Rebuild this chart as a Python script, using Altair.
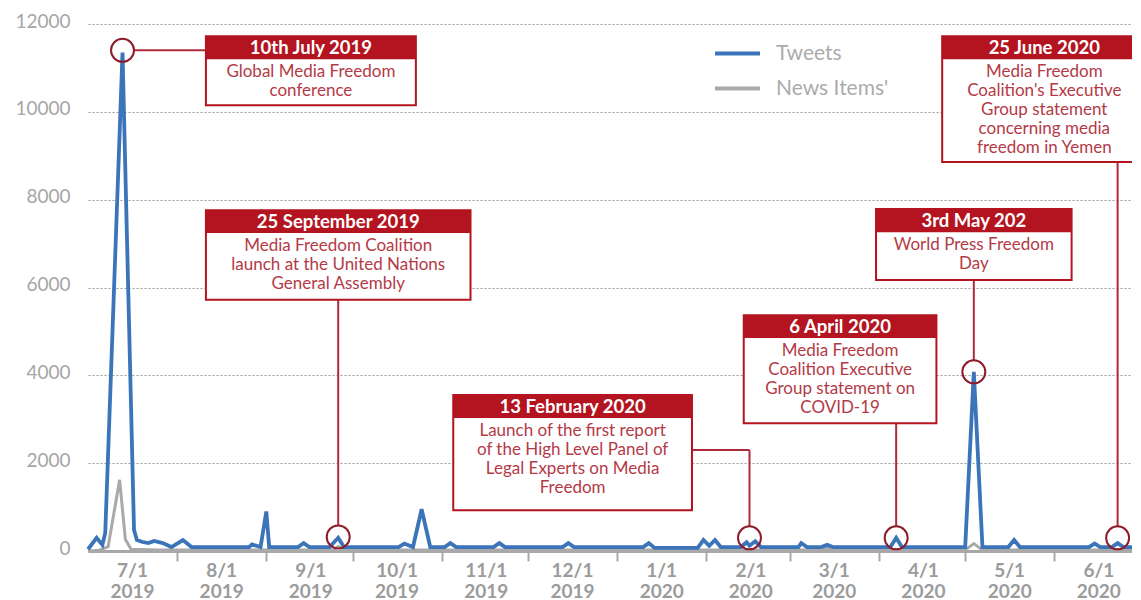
import altair as alt
import pandas as pd

# ---------------- data ----------------
tweet_dates = ["2019-07-01", "2019-07-04", "2019-07-06", "2019-07-07", "2019-07-13", "2019-07-17",
               "2019-07-18", "2019-07-20", "2019-07-22", "2019-07-24", "2019-07-27", "2019-07-30",
               "2019-08-03", "2019-08-06", "2019-08-26", "2019-08-27", "2019-08-30", "2019-09-01",
               "2019-09-02", "2019-09-12", "2019-09-14", "2019-09-16", "2019-09-23", "2019-09-26",
               "2019-09-28", "2019-10-17", "2019-10-19", "2019-10-22", "2019-10-25", "2019-10-28",
               "2019-11-02", "2019-11-04", "2019-11-06", "2019-11-19", "2019-11-21", "2019-11-23",
               "2019-12-13", "2019-12-15", "2019-12-17", "2020-01-10", "2020-01-12", "2020-01-14",
               "2020-01-29", "2020-01-31", "2020-02-02", "2020-02-04", "2020-02-06", "2020-02-13",
               "2020-02-15", "2020-02-16", "2020-02-18", "2020-02-20", "2020-03-04", "2020-03-05",
               "2020-03-07", "2020-03-12", "2020-03-14", "2020-03-16", "2020-04-05", "2020-04-07",
               "2020-04-09", "2020-05-01", "2020-05-04", "2020-05-07", "2020-05-16", "2020-05-18",
               "2020-05-20", "2020-06-13", "2020-06-15", "2020-06-17", "2020-06-21", "2020-06-23",
               "2020-06-25", "2020-07-02"]
tweet_values = [40, 300, 140, 410, 11350, 480,
                250, 205, 180, 230, 180, 90,
                250, 90, 90, 150, 90, 900,
                90, 90, 180, 90, 90, 300,
                90, 90, 170, 90, 950, 90,
                90, 180, 90, 90, 180, 90,
                90, 180, 90, 90, 180, 70,
                70, 250, 120, 250, 90, 90,
                200, 120, 220, 90, 90, 180,
                90, 90, 140, 90, 90, 300,
                90, 90, 4080, 90, 90, 250,
                90, 90, 170, 90, 90, 180,
                90, 90]

news_dates = ["2019-07-01", "2019-07-05", "2019-07-08", "2019-07-12", "2019-07-14", "2019-07-16",
              "2019-07-25", "2019-09-24", "2019-09-26", "2019-09-28", "2020-03-12", "2020-03-14",
              "2020-03-16", "2020-05-01", "2020-05-04", "2020-05-07", "2020-07-02"]
news_values = [0, 20, 100, 1620, 260, 40,
               20, 20, 100, 20, 20, 60,
               20, 20, 170, 20, 20]

series_names = ["Tweets", "News Items'"]

month_ticks = [(2019, 7), (2019, 8), (2019, 9), (2019, 10), (2019, 11), (2019, 12),
               (2020, 1), (2020, 2), (2020, 3), (2020, 4), (2020, 5), (2020, 6)]
y_ticks = [0, 2000, 4000, 6000, 8000, 10000, 12000]

# annotations
ann_headers = ["10th July 2019", "25 September 2019", "13 February 2020",
               "6 April 2020", "3rd May 202", "25 June 2020"]
ann_bodies = ["Global Media Freedom\nconference",
              "Media Freedom Coalition\nlaunch at the United Nations\nGeneral Assembly",
              "Launch of the first report\nof the High Level Panel of\nLegal Experts on Media\nFreedom",
              "Media Freedom\nCoalition Executive\nGroup statement on\nCOVID-19",
              "World Press Freedom\nDay",
              "Media Freedom\nCoalition's Executive\nGroup statement\nconcerning media\nfreedom in Yemen"]
ann_x0 = ["2019-08-11", "2019-08-11", "2019-11-05", "2020-02-14", "2020-03-31", "2020-04-23"]
ann_x1 = ["2019-10-23", "2019-11-11", "2020-01-27", "2020-04-21", "2020-06-07", "2020-07-03"]
ann_top = [11720, 7760, 3550, 5370, 7790, 11720]
ann_head = [11200, 7240, 3030, 4850, 7260, 11200]
ann_bottom = [10150, 5720, 930, 2910, 6170, 8860]

circle_dates = ["2019-07-13", "2019-09-26", "2020-02-16", "2020-04-07", "2020-05-04", "2020-06-23"]
circle_values = [11400, 320, 300, 300, 4080, 300]

seg_x0 = ["2019-07-17", "2019-09-26", "2020-01-27", "2020-02-16", "2020-04-07", "2020-05-04", "2020-06-23"]
seg_x1 = ["2019-08-11", "2019-09-26", "2020-02-16", "2020-02-16", "2020-04-07", "2020-05-04", "2020-06-23"]
seg_y0 = [11400, 5720, 2300, 2300, 2910, 6170, 8860]
seg_y1 = [11400, 580, 2300, 560, 560, 4340, 560]

# ---------------- styles ----------------
BLUE = "#3b74b8"
GRAY = "#a9a9a9"
RED = "#b3141f"
BODY_RED = "#b43a47"
LINE_RED = "#ad2a3a"
CIRC_RED = "#8e1b2a"
AXIS_GRAY = "#a8a8a8"
LABEL_GRAY = "#a6a6a6"

tweets = pd.DataFrame({"date": tweet_dates, "value": tweet_values, "series": series_names[0]})
news = pd.DataFrame({"date": news_dates, "value": news_values, "series": series_names[1]})
ann = pd.DataFrame({"header": ann_headers, "body": ann_bodies, "x0": ann_x0, "x1": ann_x1,
                    "top": ann_top, "head": ann_head, "bottom": ann_bottom})
circles = pd.DataFrame({"date": circle_dates, "value": circle_values})
segs = pd.DataFrame({"x0": seg_x0, "x1": seg_x1, "y0": seg_y0, "y1": seg_y1})

x_scale = alt.Scale(type="utc", domain=[alt.DateTime(year=2019, month=7, date=1, utc=True),
                                        alt.DateTime(year=2020, month=6, date=28, utc=True)])
y_scale = alt.Scale(domain=[0, 12000])

x_axis = alt.Axis(
    values=[alt.DateTime(year=y, month=m, date=1, utc=True) for (y, m) in month_ticks],
    labelExpr="[utcFormat(datum.value, '%-m/1'), utcFormat(datum.value, '%Y')]",
    labelOffset=44, labelFlush=False, labelOverlap=False, grid=False,
    domainColor=AXIS_GRAY, domainWidth=3, tickColor=AXIS_GRAY, tickWidth=2, tickSize=10,
    tickOpacity={"condition": {"test": "datum.value < utc(2019, 6, 2)", "value": 0}, "value": 1},
    labelFontSize=19, labelFontWeight="bold", labelColor="#9b9b9b", labelPadding=0,
    labelLineHeight=21, title=None)
y_axis = alt.Axis(values=y_ticks, format="d", grid=True, gridDash=[2, 2], gridColor="#9a9a9a",
                  gridWidth=1, domain=False, ticks=False, labelPadding=18, labelFontSize=19,
                  labelColor=LABEL_GRAY, labelOffset=-3, title=None)

color = alt.Color("series:N",
                  scale=alt.Scale(domain=series_names, range=[BLUE, GRAY]),
                  legend=alt.Legend(title=None, orient="none", legendX=625, legendY=5,
                                    symbolType="stroke", symbolSize=2025, symbolStrokeWidth=4,
                                    labelFontSize=21, labelColor="#ababab", rowPadding=-12,
                                    labelOffset=14, padding=0))

news_line = alt.Chart(news).mark_line(strokeWidth=3).encode(
    x=alt.X("date:T", scale=x_scale, axis=x_axis),
    y=alt.Y("value:Q", scale=y_scale, axis=y_axis),
    color=color)
tweet_line = alt.Chart(tweets).mark_line(strokeWidth=3.8).encode(
    x=alt.X("date:T", scale=x_scale),
    y=alt.Y("value:Q", scale=y_scale),
    color=color)

connectors = alt.Chart(segs).mark_rule(color=LINE_RED, strokeWidth=2).encode(
    x=alt.X("x0:T", scale=x_scale), x2="x1:T",
    y=alt.Y("y0:Q", scale=y_scale), y2="y1:Q")

rings = alt.Chart(circles).mark_point(shape="circle", size=529, filled=False, color=CIRC_RED,
                                      strokeWidth=2, opacity=1).encode(
    x=alt.X("date:T", scale=x_scale),
    y=alt.Y("value:Q", scale=y_scale))

box = alt.Chart(ann).mark_rect(fill="white", stroke=RED, strokeWidth=2).encode(
    x=alt.X("x0:T", scale=x_scale), x2="x1:T",
    y=alt.Y("top:Q", scale=y_scale), y2="bottom:Q")
head = alt.Chart(ann).mark_rect(fill=RED).encode(
    x=alt.X("x0:T", scale=x_scale), x2="x1:T",
    y=alt.Y("top:Q", scale=y_scale), y2="head:Q")

calc = dict(mid="(time(datum.x0) + time(datum.x1)) / 2", ym="(datum.top + datum.head) / 2")
head_text = alt.Chart(ann).transform_calculate(**calc).mark_text(
    color="white", fontWeight="bold", fontSize=18.5, baseline="middle", align="center").encode(
    x=alt.X("mid:T", scale=x_scale),
    y=alt.Y("ym:Q", scale=y_scale),
    text="header:N")
body_text = alt.Chart(ann).transform_calculate(**calc).mark_text(
    color=BODY_RED, fontSize=17, baseline="alphabetic", align="center",
    lineBreak="\n", lineHeight=19, dy=18).encode(
    x=alt.X("mid:T", scale=x_scale),
    y=alt.Y("head:Q", scale=y_scale),
    text="body:N")

chart = alt.layer(news_line, tweet_line, connectors, rings, box, head, head_text, body_text).properties(
    width=1044, height=527,
    padding={"left": 80, "top": 16, "right": 0, "bottom": 49},
    autosize=alt.AutoSizeParams(type="none"),
    background="white",
).configure(font="Lato").configure_view(stroke=None)

chart.save("out.html", embed_options={"renderer": "svg", "actions": False})
